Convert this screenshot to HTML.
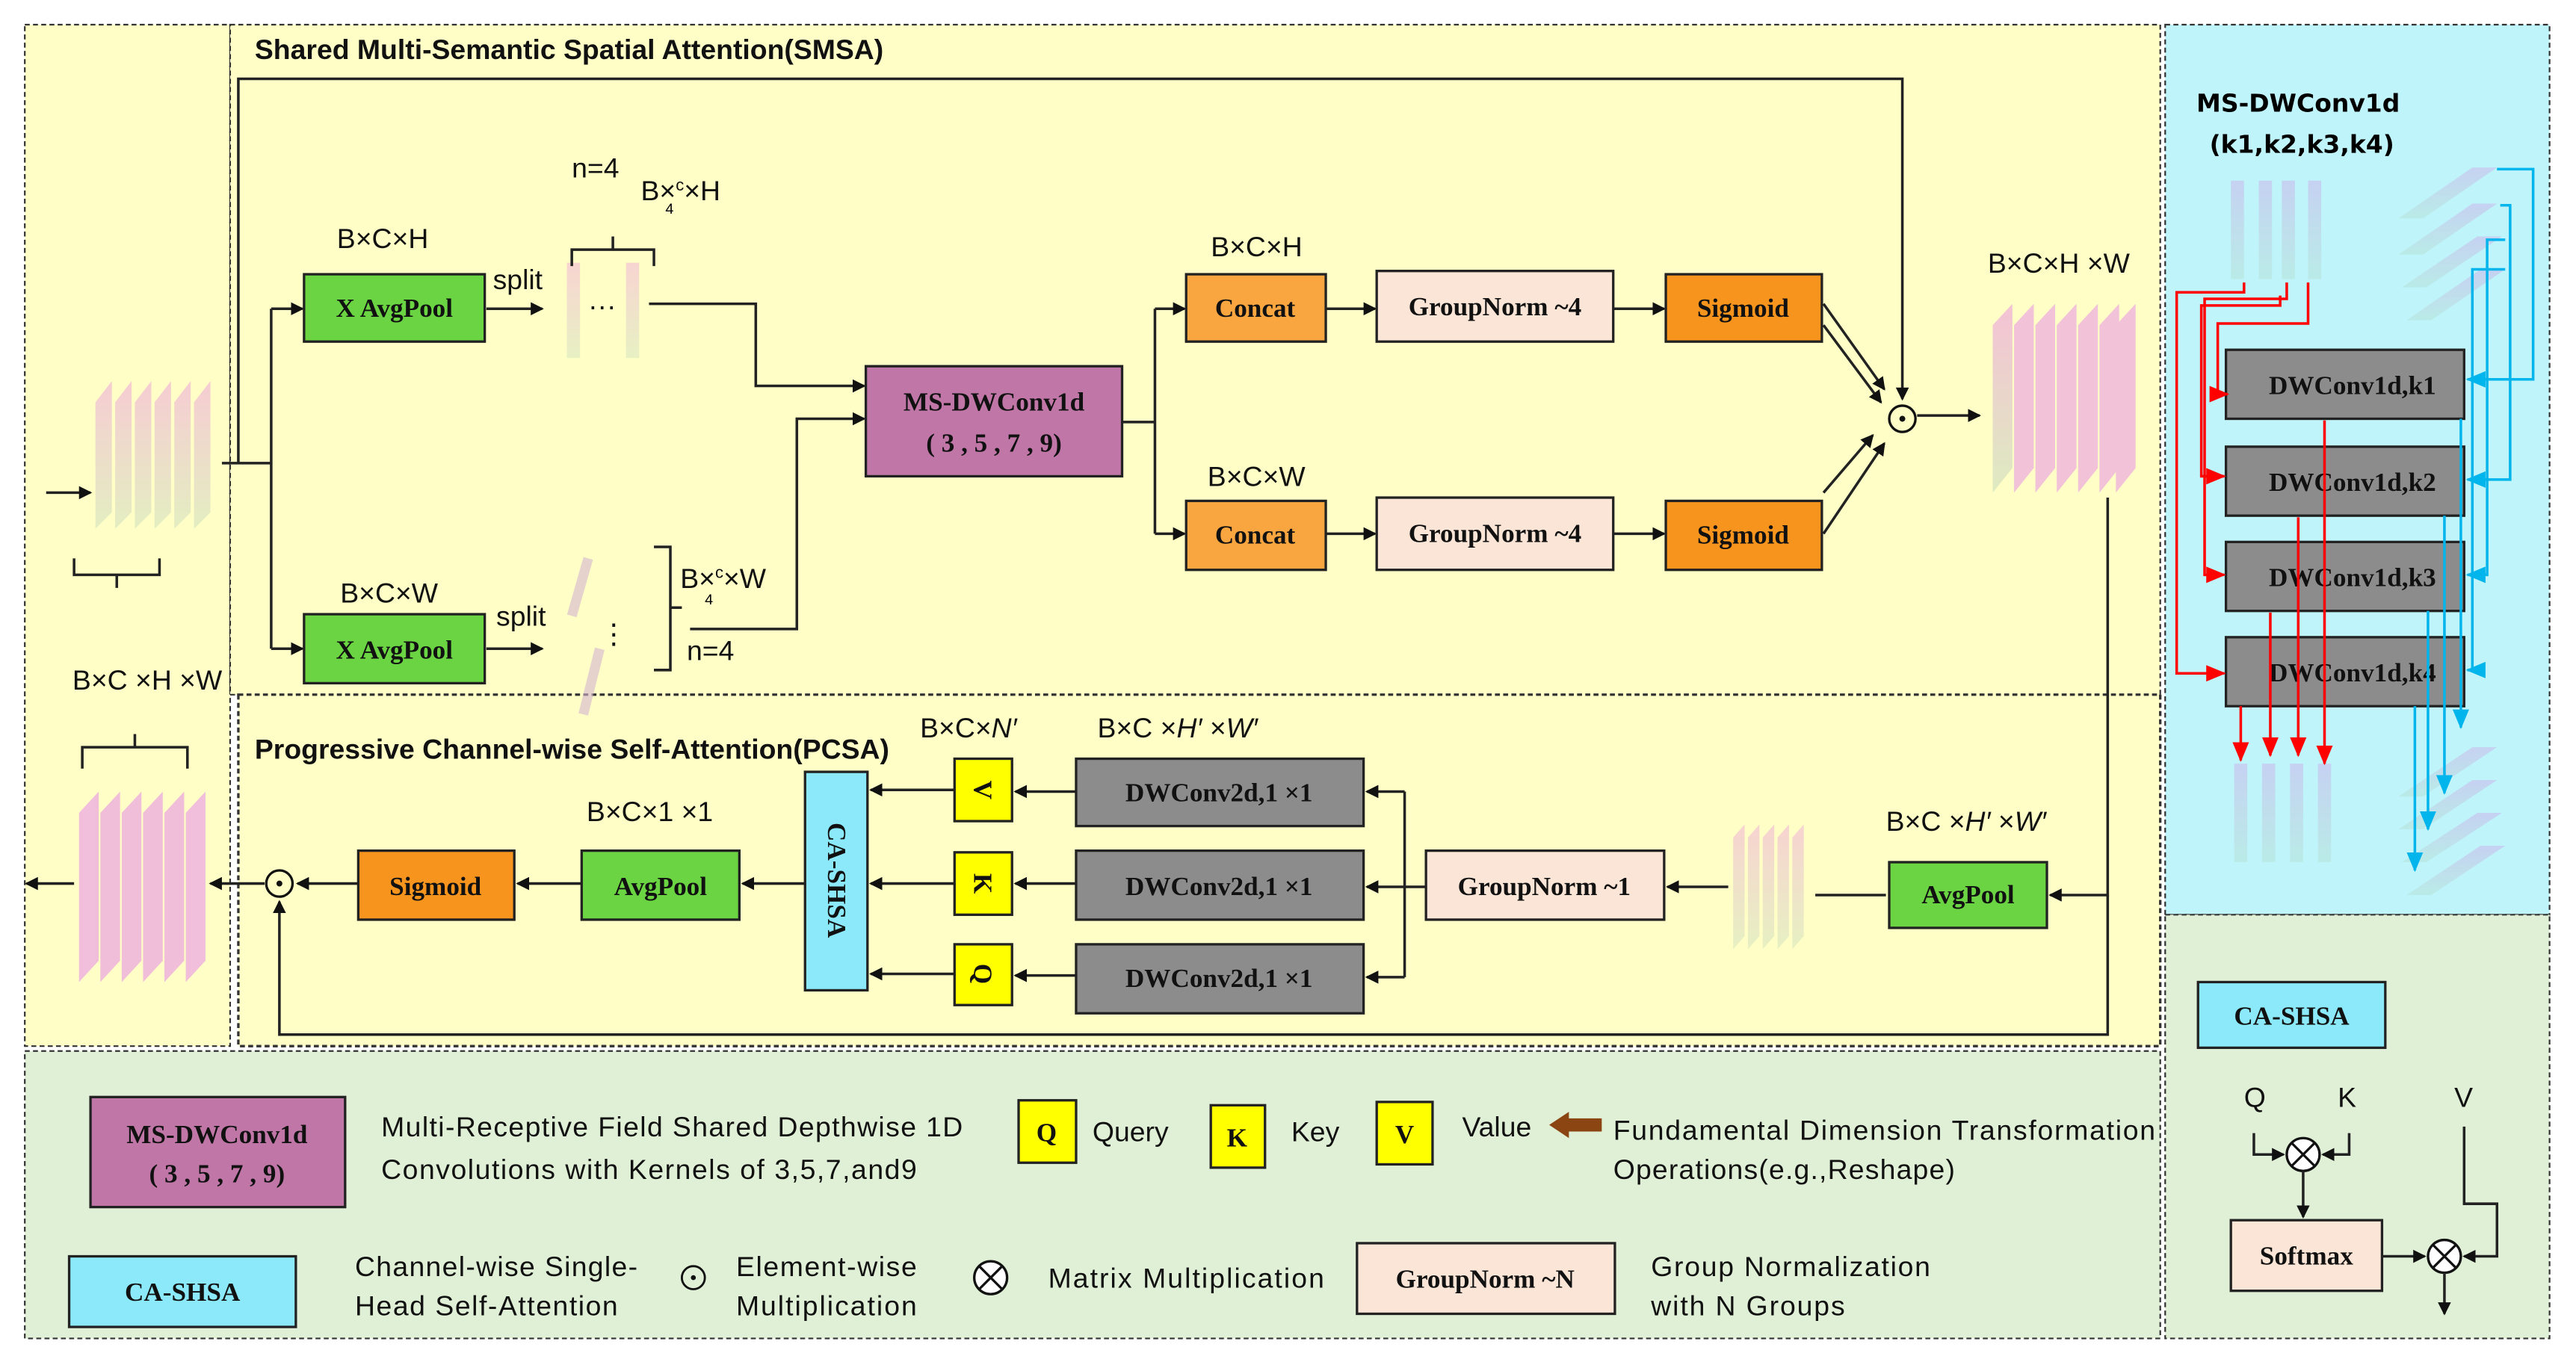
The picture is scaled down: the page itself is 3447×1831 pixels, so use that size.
<!DOCTYPE html>
<html><head><meta charset="utf-8"><style>
html,body{margin:0;padding:0;background:#fff;}
svg{display:block;}
.l{font-family:"Liberation Sans Narrow","Liberation Sans",sans-serif;font-size:17px;fill:#111;}
.b{font-family:"Liberation Serif",serif;font-weight:bold;font-size:16px;fill:#111;}
.t{font-family:"Liberation Sans Narrow","Liberation Sans",sans-serif;font-weight:bold;font-size:17px;fill:#111;}
.box{stroke:#222;stroke-width:1.5;}
.ln{stroke:#222;stroke-width:1.6;fill:none;}
.r{stroke:#f00;stroke-width:1.6;fill:none;}
.c{stroke:#00b4ec;stroke-width:1.6;fill:none;}
</style></head><body>
<svg width="3447" height="1831" viewBox="0 0 1568 833" xmlns="http://www.w3.org/2000/svg">
<defs>
<marker id="a" markerWidth="8" markerHeight="8" refX="7" refY="4" orient="auto" markerUnits="userSpaceOnUse"><path d="M0,0L8,4L0,8z" fill="#111"/></marker>
<marker id="ar" markerWidth="12" markerHeight="10" refX="11" refY="5" orient="auto" markerUnits="userSpaceOnUse"><path d="M0,0L12,5L0,10z" fill="#f00"/></marker>
<marker id="ac" markerWidth="12" markerHeight="10" refX="11" refY="5" orient="auto" markerUnits="userSpaceOnUse"><path d="M0,0L12,5L0,10z" fill="#00b4ec"/></marker>
<linearGradient id="fm" x1="0" y1="0" x2="0" y2="1"><stop offset="0" stop-color="#f3b8d8"/><stop offset="1" stop-color="#d9e8c0"/></linearGradient>
<linearGradient id="fb" x1="0" y1="0" x2="0" y2="1"><stop offset="0" stop-color="#c9c3ee"/><stop offset="1" stop-color="#b8e8e0"/></linearGradient>
</defs>
<rect width="1568" height="833" fill="#fff"/>
<rect x="15" y="15" width="125" height="622" fill="#fefec6" stroke="#333" stroke-dasharray="3,2"/>
<rect x="140" y="15" width="1175" height="408" fill="#fefec6" stroke="#333" stroke-dasharray="3,2"/>
<rect x="145" y="423" width="1170" height="214" fill="#fefec6" stroke="#333" stroke-width="1.5" stroke-dasharray="3,2"/>
<rect x="1318" y="15" width="234" height="542" fill="#bff4fb" stroke="#333" stroke-dasharray="3,2"/>
<rect x="1318" y="557" width="234" height="258" fill="#e0f0d6" stroke="#333" stroke-dasharray="3,2"/>
<rect x="15" y="640" width="1300" height="175" fill="#e0f0d6" stroke="#333" stroke-dasharray="3,2"/>

<text class="t" x="155" y="36">Shared Multi-Semantic Spatial Attention(SMSA)</text>
<text class="t" x="155" y="462">Progressive Channel-wise Self-Attention(PCSA)</text>

<line class="ln" x1="28" y1="300" x2="55" y2="300" marker-end="url(#a)"/>
<g opacity="0.7">
<polygon points="58,245 68,232 68,312 58,322" fill="url(#fm)"/>
<polygon points="70,245 80,232 80,312 70,322" fill="url(#fm)"/>
<polygon points="82,245 92,232 92,312 82,322" fill="url(#fm)"/>
<polygon points="94,245 104,232 104,312 94,322" fill="url(#fm)"/>
<polygon points="106,245 116,232 116,312 106,322" fill="url(#fm)"/>
<polygon points="118,245 128,232 128,312 118,322" fill="url(#fm)"/>
</g>
<path class="ln" d="M45,340 V350 H97 V340 M71,350 V358"/>
<text class="l" x="44" y="420">B×C ×H ×W</text>
<path class="ln" d="M50,468 V455 H114 V468 M82,455 V447"/>

<path class="ln" d="M145,282 V48 H1158 V243" marker-end="url(#a)"/>
<path class="ln" d="M135,282 H165"/>
<path class="ln" d="M165,188 V395"/>
<line class="ln" x1="165" y1="188" x2="184" y2="188" marker-end="url(#a)"/>
<line class="ln" x1="165" y1="395" x2="184" y2="395" marker-end="url(#a)"/>
<rect class="box" x="185" y="167" width="110" height="41" fill="#6bd443"/>
<text class="b" x="240" y="193" text-anchor="middle">X AvgPool</text>
<rect class="box" x="185" y="374" width="110" height="42" fill="#6bd443"/>
<text class="b" x="240" y="401" text-anchor="middle">X AvgPool</text>
<text class="l" x="205" y="151">B×C×H</text>
<text class="l" x="207" y="367">B×C×W</text>
<line class="ln" x1="296" y1="188" x2="330" y2="188" marker-end="url(#a)"/>
<line class="ln" x1="296" y1="395" x2="330" y2="395" marker-end="url(#a)"/>
<text class="l" x="300" y="176">split</text>
<text class="l" x="302" y="381">split</text>
<rect x="345" y="160" width="8" height="58" fill="url(#fm)" opacity="0.6"/>
<rect x="381" y="160" width="8" height="58" fill="url(#fm)" opacity="0.6"/>
<text class="l" x="358" y="192">···</text>
<path class="ln" d="M348,162 V152 H398 V162 M373,152 V144" stroke-width="1"/>
<text class="l" x="348" y="108">n=4</text>
<text class="l" x="390" y="122">B×<tspan font-size="10" dy="-6">c</tspan><tspan dy="6">×H</tspan></text>
<text style="font-family:'Liberation Sans';font-size:9px" x="405" y="130">4</text>
<line x1="358" y1="340" x2="348" y2="375" stroke="#d7b6d0" stroke-width="6" opacity="0.6"/>
<line x1="365" y1="395" x2="355" y2="435" stroke="#d7b6d0" stroke-width="6" opacity="0.6"/>
<text class="l" x="365" y="392" font-size="10">⋮</text>
<path class="ln" d="M398,333 H408 V408 H398 M408,370 H415" stroke-width="1"/>
<text class="l" x="414" y="358">B×<tspan font-size="10" dy="-6">c</tspan><tspan dy="6">×W</tspan></text>
<text style="font-family:'Liberation Sans';font-size:9px" x="429" y="368">4</text>
<text class="l" x="418" y="402">n=4</text>
<path class="ln" d="M395,185 H460 V235 H526" marker-end="url(#a)"/>
<path class="ln" d="M420,383 H485 V255 H526" marker-end="url(#a)"/>
<rect class="box" x="527" y="223" width="156" height="67" fill="#c077a8"/>
<text class="b" x="605" y="250" text-anchor="middle">MS-DWConv1d</text>
<text class="b" x="605" y="275" text-anchor="middle">( 3 , 5 , 7 , 9)</text>
<path class="ln" d="M683,257 H703 M703,188 V325"/>
<line class="ln" x1="703" y1="188" x2="721" y2="188" marker-end="url(#a)"/>
<line class="ln" x1="703" y1="325" x2="721" y2="325" marker-end="url(#a)"/>
<text class="l" x="737" y="156">B×C×H</text>
<text class="l" x="735" y="296">B×C×W</text>
<rect class="box" x="722" y="167" width="85" height="41" fill="#f9a640"/>
<text class="b" x="764" y="193" text-anchor="middle">Concat</text>
<rect class="box" x="722" y="305" width="85" height="42" fill="#f9a640"/>
<text class="b" x="764" y="331" text-anchor="middle">Concat</text>
<line class="ln" x1="807" y1="188" x2="837" y2="188" marker-end="url(#a)"/>
<line class="ln" x1="807" y1="325" x2="837" y2="325" marker-end="url(#a)"/>
<rect class="box" x="838" y="165" width="144" height="43" fill="#fbe5d6"/>
<text class="b" x="910" y="192" text-anchor="middle">GroupNorm ~4</text>
<rect class="box" x="838" y="303" width="144" height="44" fill="#fbe5d6"/>
<text class="b" x="910" y="330" text-anchor="middle">GroupNorm ~4</text>
<line class="ln" x1="982" y1="188" x2="1013" y2="188" marker-end="url(#a)"/>
<line class="ln" x1="982" y1="325" x2="1013" y2="325" marker-end="url(#a)"/>
<rect class="box" x="1014" y="167" width="95" height="41" fill="#f7941d"/>
<text class="b" x="1061" y="193" text-anchor="middle">Sigmoid</text>
<rect class="box" x="1014" y="305" width="95" height="42" fill="#f7941d"/>
<text class="b" x="1061" y="331" text-anchor="middle">Sigmoid</text>
<line class="ln" x1="1110" y1="185" x2="1147" y2="237" marker-end="url(#a)"/>
<line class="ln" x1="1110" y1="198" x2="1145" y2="245" marker-end="url(#a)"/>
<line class="ln" x1="1110" y1="325" x2="1147" y2="270" marker-end="url(#a)"/>
<line class="ln" x1="1110" y1="300" x2="1140" y2="265" marker-end="url(#a)"/>
<circle cx="1158" cy="255" r="8" fill="none" stroke="#111" stroke-width="1.5"/><circle cx="1158" cy="255" r="1.8" fill="#111"/>
<line class="ln" x1="1167" y1="253" x2="1205" y2="253" marker-end="url(#a)"/>
<g opacity="0.85">
<polygon points="1213,198 1225,185 1225,285 1213,300" fill="url(#fm)"/>
<polygon points="1226,198 1238,185 1238,285 1226,300" fill="#f0b8dd"/>
<polygon points="1239,198 1251,185 1251,285 1239,300" fill="#f0b8dd"/>
<polygon points="1252,198 1264,185 1264,285 1252,300" fill="#f0b8dd"/>
<polygon points="1265,198 1277,185 1277,285 1265,300" fill="#f0b8dd"/>
<polygon points="1278,198 1290,185 1290,285 1278,300" fill="#f0b8dd"/>
<polygon points="1288,198 1300,185 1300,285 1288,300" fill="#f0b8dd"/>
</g>
<text class="l" x="1210" y="166">B×C×H ×W</text>

<path class="ln" d="M1283,303 V545 H1248" marker-end="url(#a)"/>
<rect class="box" x="1150" y="525" width="96" height="40" fill="#6bd443"/>
<text class="b" x="1198" y="550" text-anchor="middle">AvgPool</text>
<text class="l" x="1148" y="506">B×C ×<tspan font-style="italic">H′</tspan> ×<tspan font-style="italic">W′</tspan></text>
<line class="ln" x1="1148" y1="545" x2="1105" y2="545"/>
<g opacity="0.6">
<polygon points="1055,510 1062,502 1062,570 1055,578" fill="url(#fm)"/>
<polygon points="1064,510 1071,502 1071,570 1064,578" fill="url(#fm)"/>
<polygon points="1073,510 1080,502 1080,570 1073,578" fill="url(#fm)"/>
<polygon points="1082,510 1089,502 1089,570 1082,578" fill="url(#fm)"/>
<polygon points="1091,510 1098,502 1098,570 1091,578" fill="url(#fm)"/>
</g>
<line class="ln" x1="1052" y1="540" x2="1015" y2="540" marker-end="url(#a)"/>
<rect class="box" x="868" y="518" width="145" height="42" fill="#fbe5d6"/>
<text class="b" x="940" y="545" text-anchor="middle">GroupNorm ~1</text>
<path class="ln" d="M868,540 H855 M855,482 V595"/>
<line class="ln" x1="855" y1="482" x2="832" y2="482" marker-end="url(#a)"/>
<line class="ln" x1="855" y1="540" x2="832" y2="540" marker-end="url(#a)"/>
<line class="ln" x1="855" y1="595" x2="832" y2="595" marker-end="url(#a)"/>
<rect class="box" x="655" y="462" width="175" height="41" fill="#8c8c8c"/>
<text class="b" x="742" y="488" text-anchor="middle">DWConv2d,1 ×1</text>
<rect class="box" x="655" y="518" width="175" height="42" fill="#8c8c8c"/>
<text class="b" x="742" y="545" text-anchor="middle">DWConv2d,1 ×1</text>
<rect class="box" x="655" y="575" width="175" height="42" fill="#8c8c8c"/>
<text class="b" x="742" y="601" text-anchor="middle">DWConv2d,1 ×1</text>
<text class="l" x="668" y="449">B×C ×<tspan font-style="italic">H′</tspan> ×<tspan font-style="italic">W′</tspan></text>
<text class="l" x="560" y="449">B×C×<tspan font-style="italic">N′</tspan></text>
<line class="ln" x1="655" y1="482" x2="618" y2="482" marker-end="url(#a)"/>
<line class="ln" x1="655" y1="538" x2="618" y2="538" marker-end="url(#a)"/>
<line class="ln" x1="655" y1="594" x2="618" y2="594" marker-end="url(#a)"/>
<rect class="box" x="581" y="462" width="35" height="38" fill="#ffff00"/>
<text class="b" transform="translate(598,481) rotate(90)" text-anchor="middle" dy="5">V</text>
<rect class="box" x="581" y="519" width="35" height="38" fill="#ffff00"/>
<text class="b" transform="translate(598,538) rotate(90)" text-anchor="middle" dy="5">K</text>
<rect class="box" x="581" y="575" width="35" height="37" fill="#ffff00"/>
<text class="b" transform="translate(598,593) rotate(90)" text-anchor="middle" dy="5">Q</text>
<line class="ln" x1="581" y1="481" x2="530" y2="481" marker-end="url(#a)"/>
<line class="ln" x1="581" y1="538" x2="530" y2="538" marker-end="url(#a)"/>
<line class="ln" x1="581" y1="593" x2="530" y2="593" marker-end="url(#a)"/>
<rect class="box" x="490" y="470" width="38" height="133" fill="#8be9f9"/>
<text class="b" transform="translate(509,536) rotate(90)" text-anchor="middle" dy="5">CA-SHSA</text>
<line class="ln" x1="490" y1="538" x2="452" y2="538" marker-end="url(#a)"/>
<rect class="box" x="354" y="518" width="96" height="42" fill="#6bd443"/>
<text class="b" x="402" y="545" text-anchor="middle">AvgPool</text>
<text class="l" x="357" y="500">B×C×1 ×1</text>
<line class="ln" x1="354" y1="538" x2="315" y2="538" marker-end="url(#a)"/>
<rect class="box" x="218" y="518" width="95" height="42" fill="#f7941d"/>
<text class="b" x="265" y="545" text-anchor="middle">Sigmoid</text>
<line class="ln" x1="218" y1="538" x2="181" y2="538" marker-end="url(#a)"/>
<circle cx="170" cy="538" r="8" fill="none" stroke="#111" stroke-width="1.5"/><circle cx="170" cy="538" r="1.8" fill="#111"/>
<path class="ln" d="M1283,545 V630 H170 V549" marker-end="url(#a)"/>
<line class="ln" x1="161" y1="538" x2="128" y2="538" marker-end="url(#a)"/>
<g opacity="0.9">
<polygon points="48,495 60,482 60,585 48,598" fill="#f0b8dd"/>
<polygon points="61,495 73,482 73,585 61,598" fill="#f0b8dd"/>
<polygon points="74,495 86,482 86,585 74,598" fill="#f0b8dd"/>
<polygon points="87,495 99,482 99,585 87,598" fill="#f0b8dd"/>
<polygon points="100,495 112,482 112,585 100,598" fill="#f0b8dd"/>
<polygon points="113,495 125,482 125,585 113,598" fill="#f0b8dd"/>
</g>
<line class="ln" x1="45" y1="538" x2="16" y2="538" marker-end="url(#a)"/>

<text style="font-family:'DejaVu Sans',sans-serif;font-weight:bold;font-size:15px" x="1337" y="68">MS-DWConv1d</text>
<text style="font-family:'DejaVu Sans',sans-serif;font-weight:bold;font-size:15px" x="1345" y="93">(k1,k2,k3,k4)</text>
<g opacity="0.7">
<rect x="1358" y="110" width="8" height="60" fill="url(#fb)"/><rect x="1375" y="110" width="8" height="60" fill="url(#fb)"/>
<rect x="1389" y="110" width="8" height="60" fill="url(#fb)"/><rect x="1405" y="110" width="8" height="60" fill="url(#fb)"/>
<rect x="1360" y="465" width="8" height="60" fill="url(#fb)"/><rect x="1377" y="465" width="8" height="60" fill="url(#fb)"/>
<rect x="1394" y="465" width="8" height="60" fill="url(#fb)"/><rect x="1411" y="465" width="8" height="60" fill="url(#fb)"/>
<polygon points="1460,133 1505,102 1520,102 1475,133" fill="url(#fb)"/>
<polygon points="1460,155 1505,124 1520,124 1475,155" fill="url(#fb)"/>
<polygon points="1462,175 1508,144 1523,144 1477,175" fill="url(#fb)"/>
<polygon points="1465,195 1510,164 1525,164 1480,195" fill="url(#fb)"/>
<polygon points="1460,485 1505,455 1520,455 1475,485" fill="url(#fb)"/>
<polygon points="1460,505 1505,475 1520,475 1475,505" fill="url(#fb)"/>
<polygon points="1462,525 1508,495 1523,495 1477,525" fill="url(#fb)"/>
<polygon points="1465,545 1510,515 1525,515 1480,545" fill="url(#fb)"/>
</g>
<rect class="box" x="1355" y="213" width="145" height="42" fill="#8c8c8c"/>
<rect class="box" x="1355" y="272" width="145" height="42" fill="#8c8c8c"/>
<rect class="box" x="1355" y="330" width="145" height="42" fill="#8c8c8c"/>
<rect class="box" x="1355" y="388" width="145" height="42" fill="#8c8c8c"/>
<text class="b" x="1432" y="240" text-anchor="middle">DWConv1d,k1</text>
<text class="b" x="1432" y="299" text-anchor="middle">DWConv1d,k2</text>
<text class="b" x="1432" y="357" text-anchor="middle">DWConv1d,k3</text>
<text class="b" x="1432" y="415" text-anchor="middle">DWConv1d,k4</text>
<path class="r" d="M1366,172 V178 H1325 V410 H1354" marker-end="url(#ar)"/>
<path class="r" d="M1392,172 V182 H1342 V350 H1354" marker-end="url(#ar)"/>
<path class="r" d="M1388,180 V186 H1340 V290 H1354" marker-end="url(#ar)"/>
<path class="r" d="M1405,172 V197 H1350 V240 H1356" marker-end="url(#ar)"/>
<line class="r" x1="1364" y1="430" x2="1364" y2="463" marker-end="url(#ar)"/>
<line class="r" x1="1382" y1="373" x2="1382" y2="460" marker-end="url(#ar)"/>
<line class="r" x1="1399" y1="315" x2="1399" y2="460" marker-end="url(#ar)"/>
<line class="r" x1="1415" y1="256" x2="1415" y2="465" marker-end="url(#ar)"/>
<path class="c" d="M1520,103 H1542 V231 H1502" marker-end="url(#ac)"/>
<path class="c" d="M1522,125 H1528 V292 H1502" marker-end="url(#ac)"/>
<path class="c" d="M1525,146 H1514 V350 H1502" marker-end="url(#ac)"/>
<path class="c" d="M1525,164 H1505 V408 H1502" marker-end="url(#ac)"/>
<line class="c" x1="1498" y1="255" x2="1498" y2="443" marker-end="url(#ac)"/>
<line class="c" x1="1488" y1="314" x2="1488" y2="483" marker-end="url(#ac)"/>
<line class="c" x1="1478" y1="372" x2="1478" y2="505" marker-end="url(#ac)"/>
<line class="c" x1="1470" y1="430" x2="1470" y2="530" marker-end="url(#ac)"/>

<rect class="box" x="1338" y="598" width="114" height="40" fill="#8be9f9"/>
<text class="b" x="1395" y="624" text-anchor="middle">CA-SHSA</text>
<text class="l" x="1366" y="674">Q</text><text class="l" x="1423" y="674">K</text><text class="l" x="1494" y="674">V</text>
<path class="ln" d="M1372,690 V703 H1390" marker-end="url(#a)"/>
<path class="ln" d="M1430,690 V703 H1414" marker-end="url(#a)"/>
<circle cx="1402" cy="703" r="10" fill="#fff" stroke="#111" stroke-width="1.5"/>
<path d="M1395,696 L1409,710 M1409,696 L1395,710" stroke="#111" stroke-width="1.5"/>
<line class="ln" x1="1402" y1="713" x2="1402" y2="741" marker-end="url(#a)"/>
<rect class="box" x="1358" y="743" width="92" height="43" fill="#fbe5d6"/>
<text class="b" x="1404" y="770" text-anchor="middle">Softmax</text>
<line class="ln" x1="1450" y1="765" x2="1476" y2="765" marker-end="url(#a)"/>
<path class="ln" d="M1500,686 V733 H1520 V765 H1500" marker-end="url(#a)"/>
<circle cx="1488" cy="765" r="10" fill="#fff" stroke="#111" stroke-width="1.5"/>
<path d="M1481,758 L1495,772 M1495,758 L1481,772" stroke="#111" stroke-width="1.5"/>
<line class="ln" x1="1488" y1="775" x2="1488" y2="800" marker-end="url(#a)"/>

<rect class="box" x="55" y="668" width="155" height="67" fill="#c077a8"/>
<text class="b" x="132" y="696" text-anchor="middle">MS-DWConv1d</text>
<text class="b" x="132" y="720" text-anchor="middle">( 3 , 5 , 7 , 9)</text>
<text class="l" x="232" y="692" textLength="354">Multi-Receptive Field Shared Depthwise 1D</text>
<text class="l" x="232" y="718" textLength="326">Convolutions with Kernels of 3,5,7,and9</text>
<rect class="box" x="620" y="670" width="35" height="38" fill="#ffff00"/>
<text class="b" x="637" y="695" text-anchor="middle">Q</text>
<text class="l" x="665" y="695">Query</text>
<rect class="box" x="737" y="673" width="33" height="38" fill="#ffff00"/>
<text class="b" x="753" y="698" text-anchor="middle">K</text>
<text class="l" x="786" y="695">Key</text>
<rect class="box" x="838" y="671" width="34" height="38" fill="#ffff00"/>
<text class="b" x="855" y="696" text-anchor="middle">V</text>
<text class="l" x="890" y="692">Value</text>
<path d="M975,681 H955 V677 L943,685 L955,693 V689 H975z" fill="#8b4513"/>
<text class="l" x="982" y="694" textLength="330">Fundamental Dimension Transformation</text>
<text class="l" x="982" y="718" textLength="208">Operations(e.g.,Reshape)</text>
<rect class="box" x="42" y="765" width="138" height="43" fill="#8be9f9"/>
<text class="b" x="111" y="792" text-anchor="middle">CA-SHSA</text>
<text class="l" x="216" y="777" textLength="172">Channel-wise Single-</text>
<text class="l" x="216" y="801" textLength="160">Head Self-Attention</text>
<circle cx="422" cy="778" r="7" fill="none" stroke="#111" stroke-width="1.3"/><circle cx="422" cy="778" r="1.5" fill="#111"/>
<text class="l" x="448" y="777" textLength="110">Element-wise</text>
<text class="l" x="448" y="801" textLength="110">Multiplication</text>
<circle cx="603" cy="778" r="10" fill="#fff" stroke="#111" stroke-width="1.5"/>
<path d="M596,771 L610,785 M610,771 L596,785" stroke="#111" stroke-width="1.5"/>
<text class="l" x="638" y="784" textLength="168">Matrix Multiplication</text>
<rect class="box" x="826" y="757" width="157" height="43" fill="#fbe5d6"/>
<text class="b" x="904" y="784" text-anchor="middle">GroupNorm ~N</text>
<text class="l" x="1005" y="777" textLength="170">Group Normalization</text>
<text class="l" x="1005" y="801" textLength="118">with N Groups</text>
</svg>
</body></html>
